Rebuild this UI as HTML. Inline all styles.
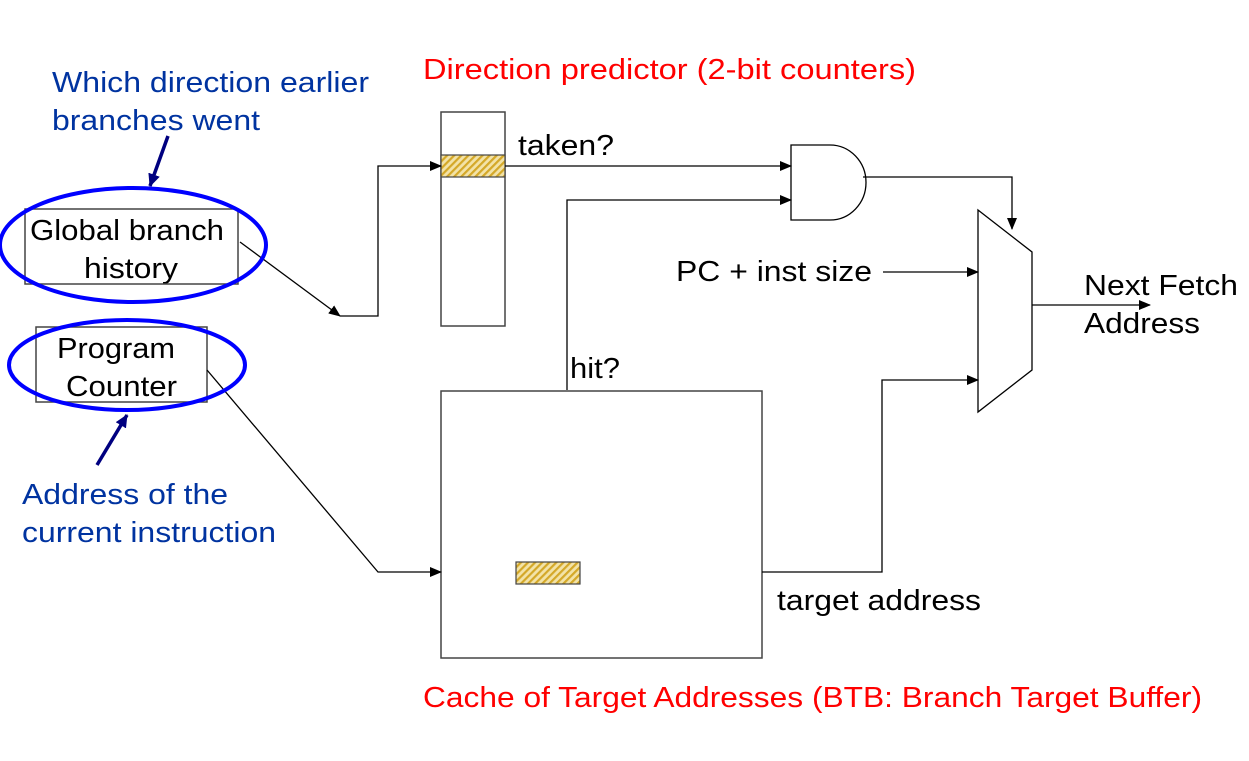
<!DOCTYPE html>
<html><head><meta charset="utf-8"><style>
html,body{margin:0;padding:0;background:#fff;width:1249px;height:761px;overflow:hidden}
svg text{font-family:"Liberation Sans",Arial,sans-serif}
</style></head><body>
<svg width="1249" height="761" viewBox="0 0 1249 761" xmlns="http://www.w3.org/2000/svg">
<defs>
<marker id="a" markerWidth="12" markerHeight="10" refX="11" refY="5" orient="auto" markerUnits="userSpaceOnUse"><path d="M0,0 L12,5 L0,10 z" fill="#000"/></marker>
<marker id="n" markerWidth="14" markerHeight="12" refX="12" refY="6" orient="auto" markerUnits="userSpaceOnUse"><path d="M0,0 L13,6 L0,12 z" fill="#000080"/></marker>
<pattern id="h" width="5" height="5" patternUnits="userSpaceOnUse" patternTransform="rotate(45)"><rect width="5" height="5" fill="#f3e3a8"/><rect width="2.2" height="5" fill="#d4a828"/></pattern>
</defs>
<g font-size="29" lengthAdjust="spacingAndGlyphs">
<text x="52" y="92" fill="#0033a0" textLength="317" lengthAdjust="spacingAndGlyphs">Which direction earlier</text>
<text x="52" y="130" fill="#0033a0" textLength="208" lengthAdjust="spacingAndGlyphs">branches went</text>
<text x="423" y="79" fill="#ff0000" textLength="493" lengthAdjust="spacingAndGlyphs">Direction predictor (2-bit counters)</text>
<text x="22" y="504" fill="#0033a0" textLength="206" lengthAdjust="spacingAndGlyphs">Address of the</text>
<text x="22" y="542" fill="#0033a0" textLength="254" lengthAdjust="spacingAndGlyphs">current instruction</text>
<text x="423" y="707" fill="#ff0000" textLength="779" lengthAdjust="spacingAndGlyphs">Cache of Target Addresses (BTB: Branch Target Buffer)</text>
<text x="518" y="155" textLength="96" lengthAdjust="spacingAndGlyphs">taken?</text>
<text x="676" y="281" textLength="196" lengthAdjust="spacingAndGlyphs">PC + inst size</text>
<text x="1084" y="295" textLength="154" lengthAdjust="spacingAndGlyphs">Next Fetch</text>
<text x="1084" y="333" textLength="116" lengthAdjust="spacingAndGlyphs">Address</text>
<text x="570" y="378" textLength="50" lengthAdjust="spacingAndGlyphs">hit?</text>
<text x="777" y="610" textLength="204" lengthAdjust="spacingAndGlyphs">target address</text>
<text x="30" y="240" textLength="194" lengthAdjust="spacingAndGlyphs">Global branch</text>
<text x="84" y="278" textLength="94" lengthAdjust="spacingAndGlyphs">history</text>
<text x="57" y="358" textLength="118" lengthAdjust="spacingAndGlyphs">Program</text>
<text x="66" y="396" textLength="111" lengthAdjust="spacingAndGlyphs">Counter</text>
</g>
<g fill="none" stroke="#444" stroke-width="1.5">
<rect x="25" y="209" width="213" height="75"/>
<rect x="36" y="327" width="171" height="75"/>
<rect x="441" y="112" width="64" height="214"/>
<rect x="441" y="391" width="321" height="267"/>
</g>
<rect x="441" y="155" width="64" height="22" fill="url(#h)" stroke="#444" stroke-width="1.2"/>
<rect x="516" y="562" width="64" height="22" fill="url(#h)" stroke="#444" stroke-width="1.2"/>
<g fill="none" stroke="#000" stroke-width="1.3">
<polyline points="240,242 340,316" marker-end="url(#a)"/>
<polyline points="340,316 378,316 378,166 441,166" marker-end="url(#a)"/>
<polyline points="505,166 791,166" marker-end="url(#a)"/>
<polyline points="567,390 567,200 791,200" marker-end="url(#a)"/>
<polyline points="207,370 378,572 441,572" marker-end="url(#a)"/>
<polyline points="762,572 882,572 882,380 978,380" marker-end="url(#a)"/>
<polyline points="883,272 978,272" marker-end="url(#a)"/>
<polyline points="863,177 1012,177 1012,229" marker-end="url(#a)"/>
<polyline points="1032,305 1150,305" marker-end="url(#a)"/>
<path d="M791,145 L830,145 A36,37.5 0 0 1 830,220 L791,220 Z"/>
<path d="M978,210 L1032,252 L1032,370 L978,412 Z"/>
</g>
<g fill="none" stroke="#0000ff" stroke-width="4">
<ellipse cx="133" cy="245" rx="133" ry="57"/>
<ellipse cx="127" cy="365" rx="118" ry="45"/>
</g>
<g stroke="#000080" stroke-width="3.5">
<line x1="168" y1="136" x2="150" y2="186" marker-end="url(#n)"/>
<line x1="97" y1="465" x2="127" y2="415" marker-end="url(#n)"/>
</g>
</svg>
</body></html>
